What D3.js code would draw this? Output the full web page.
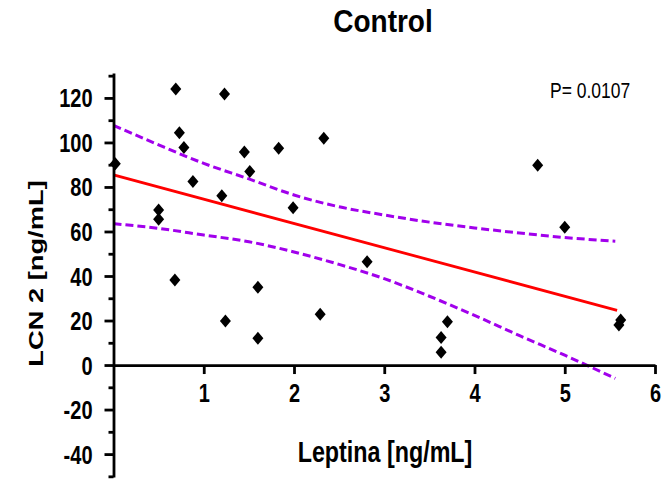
<!DOCTYPE html>
<html>
<head>
<meta charset="utf-8">
<script src="https://cdn.jsdelivr.net/npm/d3@7"></script>
<style>
  html, body { margin: 0; padding: 0; background: #fff; }
  svg text { font-family: "Liberation Sans", Arial, sans-serif; fill: #000; }
</style>
</head>
<body>
<div id="chart"></div>
<script>
// values
var leptina = [0.02, 0.69, 1.23, 0.73, 0.78, 1.45, 1.83, 2.33, 0.88, 1.51, 1.20, 1.99, 0.50, 0.50,
  2.81, 0.68, 1.60, 1.24, 1.60, 2.29, 3.70, 3.63, 3.63, 5.62, 5.60, 4.70, 5.00];
var lcn2 = [90.4, 124, 121.8, 104.4, 97.7, 95.7, 97.4, 101.9, 82.4, 86.9, 76.1, 70.7, 69.7, 65.5,
  46.4, 38.2, 34.9, 19.8, 12.0, 22.8, 19.5, 12.4, 5.7, 20.2, 18.0, 89.7, 61.9];

// regression line and 95% band
var fitX = [0, 5.58];
var fitY = [85.4, 24.6];
var bandX = [0, 0.5, 1, 1.5, 2, 2.5, 3, 3.5, 4, 4.5, 5, 5.56];
var bandUpper = [107.7, 98.9, 90.6, 83.6, 76.4, 71.1, 67.4, 64.2, 61.6, 59.3, 57.3, 55.6];
var bandLower = [63.5, 61.4, 58.4, 55.4, 50.8, 45.2, 38.8, 30.9, 22.3, 13.2, 4.4, -6.0];

var xTicks = [1, 2, 3, 4, 5, 6];
var yTicks = [-40, -20, 0, 20, 40, 60, 80, 100, 120];
var yMinor = [-50, -30, -10, 10, 30, 50, 70, 90, 110, 130];

var pText = "P= 0.0107";
var title = "Control";
var xTitle = "Leptina [ng/mL]";
var yTitle = "LCN 2 [ng/mL]";

var W = 665, H = 480;
var svg = d3.select("#chart").append("svg")
  .attr("width", W)
  .attr("height", H);

var x = d3.scaleLinear().domain([0, 6]).range([113.5, 655]);
var y = d3.scaleLinear().domain([-50.3, 131.2]).range([477, 73]);
var plain = function(d) { return String(d); };

// confidence band
var band = d3.line()
  .x(function(d) { return x(d[0]); })
  .y(function(d) { return y(d[1]); })
  .curve(d3.curveMonotoneX);

[bandUpper, bandLower].forEach(function(vals) {
  svg.append("path")
    .datum(bandX.map(function(v, i) { return [v, vals[i]]; }))
    .attr("d", band)
    .attr("fill", "none")
    .attr("stroke", "#a100ec")
    .attr("stroke-width", 3)
    .attr("stroke-dasharray", "8,4");
});

// fit line
svg.append("path")
  .datum(fitX.map(function(v, i) { return [v, fitY[i]]; }))
  .attr("d", band)
  .attr("fill", "none")
  .attr("stroke", "#ff0000")
  .attr("stroke-width", 2.8);

// axes
var yAxis = svg.append("g")
  .attr("transform", "translate(" + x(0) + ",0)")
  .call(d3.axisLeft(y).tickValues(yTicks).tickFormat(plain).tickSize(9).tickSizeOuter(0).tickPadding(12));

svg.append("g")
  .attr("transform", "translate(" + x(0) + ",0)")
  .call(d3.axisLeft(y).tickValues(yMinor).tickSize(5).tickFormat(""))
  .call(function(g) { g.select(".domain").remove(); });

var xAxis = svg.append("g")
  .attr("transform", "translate(0," + y(0) + ")")
  .call(d3.axisBottom(x).tickValues(xTicks).tickFormat(plain).tickSize(9).tickSizeOuter(0));

svg.selectAll(".domain, .tick line")
  .attr("stroke", "#000")
  .attr("stroke-width", 2.8);

yAxis.selectAll(".tick text")
  .attr("font-size", 20)
  .attr("font-weight", "bold")
  .attr("dy", "0.36em")
  .attr("transform", "scale(1,1.25)");

xAxis.selectAll(".tick text")
  .attr("font-size", 20)
  .attr("font-weight", "bold")
  .attr("dy", 0)
  .attr("y", 29.6)
  .attr("transform", "scale(1,1.25)");

// points
svg.append("g")
  .selectAll("path")
  .data(leptina.map(function(v, i) { return [v, lcn2[i]]; }))
  .join("path")
  .attr("transform", function(d) { return "translate(" + x(d[0]) + "," + y(d[1]) + ")"; })
  .attr("d", "M0,-6.5L5.5,0L0,6.5L-5.5,0Z")
  .attr("fill", "#000");

// texts
function label(txt, tx, ty, size, weight, anchor, sy, rot) {
  var g = svg.append("g")
    .attr("transform", "translate(" + tx + "," + ty + ") scale(1," + sy + ")" + (rot ? " rotate(" + rot + ")" : ""));
  g.append("text")
    .attr("text-anchor", anchor)
    .attr("font-size", size)
    .attr("font-weight", weight)
    .text(txt);
}

label(title, 383, 32, 28, "bold", "middle", 1.1);
label(xTitle, 385, 462, 23.3, "bold", "middle", 1.25);
label(yTitle, 43, 273.5, 21, "bold", "middle", 1.3, -90);
label(pText, 550, 98, 17.5, "normal", "start", 1.3);
</script>
</body>
</html>
